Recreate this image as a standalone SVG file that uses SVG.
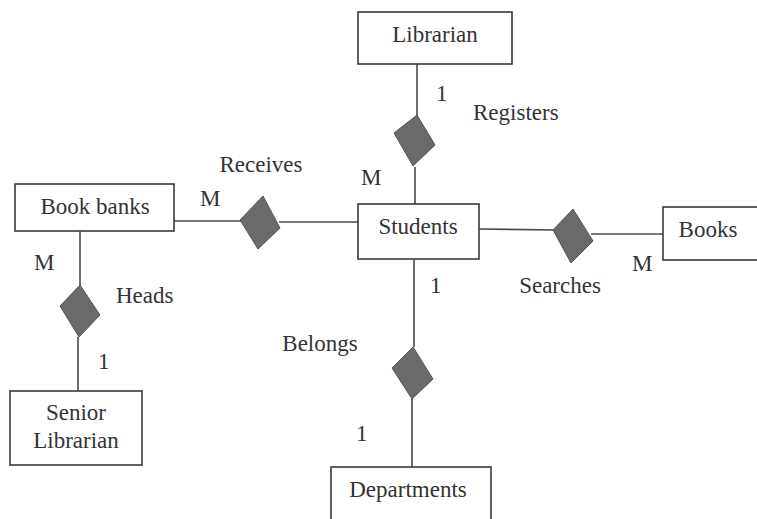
<svg xmlns="http://www.w3.org/2000/svg" width="757" height="519" viewBox="0 0 757 519">
<style>
.box{fill:#fff;stroke:#3a3a3a;stroke-width:1.6}
.ln{stroke:#4a4a4a;stroke-width:1.6;fill:none}
.dia{fill:#6a6a6a;stroke:#555;stroke-width:1}
.t{font-family:"Liberation Serif","Times New Roman",Times,serif;font-size:23px;fill:#333}
.c{text-anchor:middle}
</style>
<rect width="757" height="519" fill="#fff"/>
<g id="connectors">
<line class="ln" x1="417" y1="64" x2="417" y2="116"/>
<line class="ln" x1="415" y1="167" x2="415" y2="204"/>
<line class="ln" x1="174" y1="221" x2="241" y2="221"/>
<line class="ln" x1="279" y1="222" x2="358" y2="222"/>
<line class="ln" x1="479" y1="229" x2="554" y2="230"/>
<line class="ln" x1="591" y1="234" x2="663" y2="234"/>
<line class="ln" x1="414" y1="259" x2="414" y2="347"/>
<line class="ln" x1="412" y1="399" x2="412" y2="467"/>
<line class="ln" x1="80" y1="231" x2="80" y2="286"/>
<line class="ln" x1="78" y1="337" x2="78" y2="391"/>
</g>
<g class="t" font-family="Liberation Serif, serif">
<g id="librarian"><rect class="box" x="358" y="12" width="154" height="52"/><text class="c" x="435" y="42">Librarian</text></g>
<g id="students"><rect class="box" x="358" y="204" width="121" height="55"/><text class="c" x="418" y="234">Students</text></g>
<g id="books"><rect class="box" x="663" y="207" width="110" height="53"/><text class="c" x="708" y="237">Books</text></g>
<g id="bookbanks"><rect class="box" x="15" y="184" width="159" height="47"/><text class="c" x="95" y="214">Book banks</text></g>
<g id="seniorlibrarian"><rect class="box" x="10" y="391" width="132" height="74"/><text class="c" x="76" y="420">Senior</text><text class="c" x="76" y="448">Librarian</text></g>
<g id="departments"><rect class="box" x="331" y="467" width="160" height="70"/><text class="c" x="408" y="497">Departments</text></g>
<g id="registers"><polygon class="dia" points="417,115 435,145 413,166 394,133"/><text x="473" y="120">Registers</text><text x="436" y="101">1</text><text x="361" y="185">M</text></g>
<g id="receives"><polygon class="dia" points="263,196 280,228 258,249 240,220"/><text class="c" x="261" y="172">Receives</text><text x="200" y="206">M</text></g>
<g id="searches"><polygon class="dia" points="573,209 593,241 571,263 553,230"/><text class="c" x="560" y="293">Searches</text><text x="430" y="293">1</text><text x="632" y="271">M</text></g>
<g id="heads"><polygon class="dia" points="80,285 100,315 79,337 60,306"/><text x="116" y="303">Heads</text><text x="34" y="270">M</text><text x="98" y="369">1</text></g>
<g id="belongs"><polygon class="dia" points="413,347 433,379 412,399 392,368"/><text class="c" x="320" y="351">Belongs</text><text x="356" y="441">1</text></g>
</g>
</svg>
